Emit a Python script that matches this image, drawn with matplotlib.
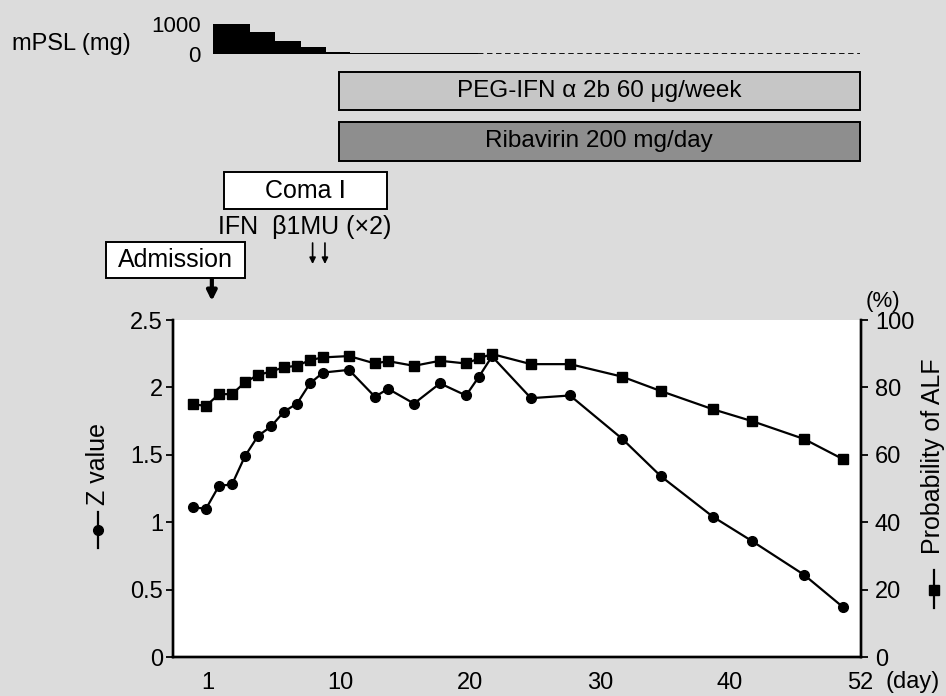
import matplotlib
matplotlib.use('Agg')
import matplotlib.pyplot as plt
from matplotlib.lines import Line2D

plt.rcParams['font.family'] = ['Liberation Sans', 'DejaVu Sans']

# 病日と各指標
days = [-1, 0, 1, 2, 3, 4, 5, 6, 7, 8, 9, 11, 13, 14, 16, 18, 20, 21, 22,
        25, 28, 32, 35, 39, 42, 46, 49]
z_value = [1.11, 1.10, 1.27, 1.28, 1.49, 1.64, 1.71, 1.82, 1.88, 2.03, 2.11,
           2.13, 1.93, 1.99, 1.88, 2.03, 1.94, 2.08, 2.23, 1.92, 1.94, 1.62,
           1.34, 1.04, 0.86, 0.61, 0.37]
prob_alf = [75.0, 74.5, 78.0, 78.0, 81.5, 83.7, 84.7, 86.0, 86.4, 88.1, 88.9,
            89.3, 87.1, 87.8, 86.4, 87.9, 87.1, 88.6, 89.9, 86.9, 86.9, 83.2,
            78.9, 73.5, 70.0, 64.7, 58.7]
xtick_labels = ['1', '10', '20', '30', '40', '52']

# mPSL 投与量
mpsl_start = [0.5, 3.4, 5.3, 7.3, 9.2, 11.1]
mpsl_len = [2.9, 1.9, 2.0, 1.9, 1.9, 9.8]
mpsl_dose = [1000, 720, 440, 240, 80, 40]
mpsl_off = [20.9, 50.3]

# 治療期間
treat_start = 10.2
treat_end = 50.3
ifn_beta_days = [8.2, 9.15]
admission_day = 0.45

W, H = 946, 696


def fx(px):
    return px / W


def fy(py):
    return 1 - py / H


def px2day(px):
    return 10 + (px - 336) / 13


fig = plt.figure(figsize=(W / 100, H / 100), dpi=100)
fig.patch.set_facecolor('#dcdcdc')

L, R, T, B = 172.7, 861, 320, 657
ax = fig.add_axes([fx(L), fy(B), fx(R - L), (B - T) / H])
ax.set_facecolor('white')
ax2 = ax.twinx()

ax.plot(days, z_value, '-o', color='black', ms=7, lw=1.6, zorder=3)
ax2.plot(days, prob_alf, '-s', color='black', ms=6.5, lw=1.6, zorder=3)

xlim = (px2day(L), px2day(R))
ax.set_xlim(*xlim)
ax.set_ylim(0, 2.5)
ax2.set_ylim(0, 100)
ax.set_yticks([0, 0.5, 1, 1.5, 2, 2.5], ['0', '0.5', '1', '1.5', '2', '2.5'])
ax2.set_yticks([0, 20, 40, 60, 80, 100])
tick_pos = [px2day(p) for p in (208, 340, 470, 600, 730, 860)]
ax.set_xticks(tick_pos, xtick_labels)

for a in (ax, ax2):
    a.spines['top'].set_visible(False)
    for s in ('left', 'right', 'bottom'):
        a.spines[s].set_linewidth(1.7)
ax.tick_params(axis='y', length=5, width=1.3, pad=2, labelsize=17)
ax.tick_params(axis='x', length=0, pad=11, labelsize=17)
ax2.tick_params(axis='y', length=5, width=1.3, pad=5, labelsize=17)

fig.text(fx(885), fy(682), '(day)', fontsize=17, ha='left', va='center')
fig.text(fx(883), fy(301), '(%)', fontsize=16, ha='center', va='center')

# 軸ラベル（凡例記号つき）
fig.text(fx(98), fy(464), 'Z value', rotation=90, fontsize=18,
         ha='center', va='center')
fig.add_artist(Line2D([fx(98)] * 3, [fy(512), fy(530), fy(548)],
                      transform=fig.transFigure, color='black', lw=1.6,
                      marker='o', ms=7, markevery=[1]))
fig.text(fx(933), fy(456), 'Probability of ALF', rotation=90, fontsize=18,
         ha='center', va='center')
fig.add_artist(Line2D([fx(934)] * 3, [fy(570), fy(590), fy(608)],
                      transform=fig.transFigure, color='black', lw=1.6,
                      marker='s', ms=6.5, markevery=[1]))

# mPSL
axm = fig.add_axes([fx(L), fy(54), fx(R - L), 30 / H])
axm.patch.set_visible(False)
axm.bar(mpsl_start, mpsl_dose, width=mpsl_len, align='edge', color='black')
axm.plot(mpsl_off, [0, 0], ls=(0, (3, 2)), color='black', lw=1.3)
axm.set_xlim(*xlim)
axm.set_ylim(0, 1000)
for s in axm.spines.values():
    s.set_visible(False)
axm.spines['left'].set_position(('data', px2day(206)))
axm.set_xticks([])
axm.set_yticks([0, 1000], ['0', '1000'])
axm.tick_params(axis='y', length=0, pad=4, labelsize=16)
fig.text(fx(12), fy(44), 'mPSL (mg)', fontsize=17, ha='left', va='center')

# 治療・イベント注記
ann = fig.add_axes([fx(L), fy(T), fx(R - L), T / H])
ann.set_xlim(*xlim)
ann.set_ylim(T, 0)
ann.axis('off')

ann.barh(91, treat_end - treat_start, left=treat_start, height=38,
         color='#c6c6c6', edgecolor='black', lw=1.4)
ann.text((treat_start + treat_end) / 2, 91, 'PEG-IFN α 2b 60 μg/week',
         fontsize=17.5, ha='center', va='center')
ann.barh(141.5, treat_end - treat_start, left=treat_start, height=39,
         color='#8e8e8e', edgecolor='black', lw=1.4)
ann.text((treat_start + treat_end) / 2, 141.5, 'Ribavirin 200 mg/day',
         fontsize=17.5, ha='center', va='center')

ann.barh(190.5, px2day(387) - px2day(224), left=px2day(224), height=37,
         color='white', edgecolor='black', lw=1.4)
ann.text(px2day(305.5), 191, 'Coma Ⅰ', fontsize=18, ha='center', va='center')
ann.text(px2day(305), 227, 'IFN  β1MU (×2)', fontsize=18,
         ha='center', va='center')
for d in ifn_beta_days:
    ann.annotate('', xy=(d, 264), xytext=(d, 243),
                 arrowprops=dict(arrowstyle='-|>', color='black', lw=1.2,
                                 mutation_scale=9, shrinkA=0, shrinkB=0))

ann.barh(260, px2day(245) - px2day(106), left=px2day(106), height=36,
         color='white', edgecolor='black', lw=1.4, clip_on=False)
ann.text(px2day(175.5), 260, 'Admission', fontsize=18, ha='center',
         va='center', clip_on=False)
ann.annotate('', xy=(admission_day, 301), xytext=(admission_day, 279),
             arrowprops=dict(arrowstyle='-|>', color='black', lw=3,
                             mutation_scale=14, shrinkA=0, shrinkB=0))

fig.savefig('out.png', dpi=100, facecolor=fig.get_facecolor())
